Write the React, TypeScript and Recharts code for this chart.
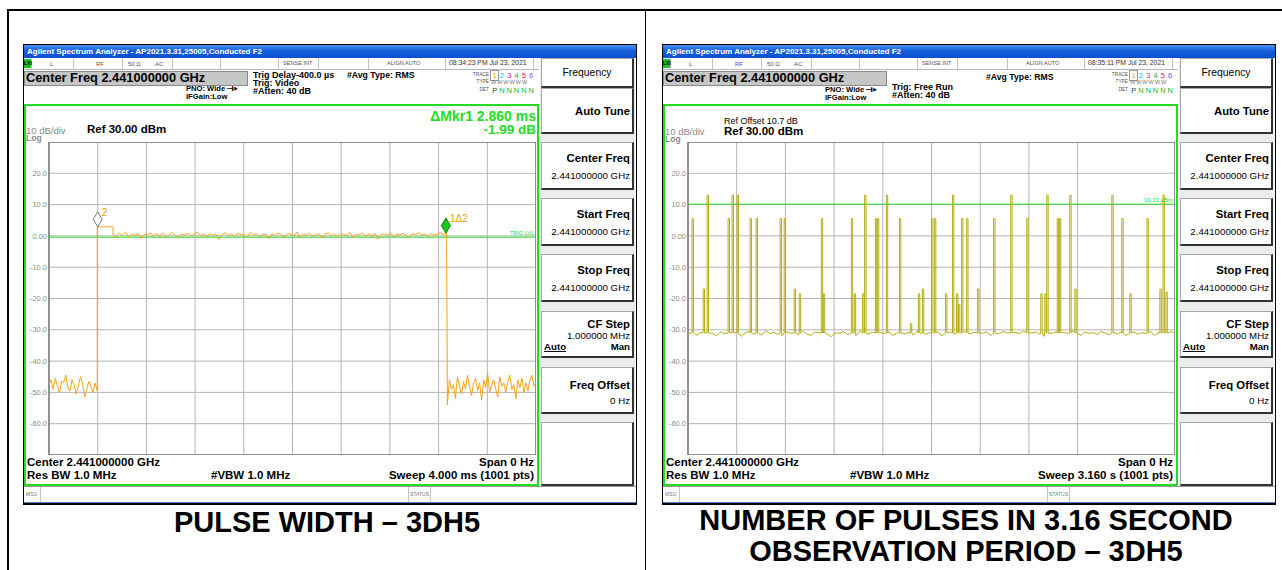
import React from 'react';
import { LineChart, Line, XAxis, YAxis, CartesianGrid, ReferenceLine, ReferenceArea, ReferenceDot } from 'recharts';

// ---------- shared scale ----------
const levelTicks = [-70, -60, -50, -40, -30, -20, -10, 0, 10, 20, 30];

// ---------- left: pulse width, 4 ms zero-span sweep ----------
const leftSweep = 4.0; // ms
const leftTimeTicks = [0, 0.4, 0.8, 1.2, 1.6, 2.0, 2.4, 2.8, 3.2, 3.6, 4.0];
const leftPreNoise = [-47.5, -46, -49, -45.5, -48, -50, -46.5, -47, -44.5, -48.5, -49.5, -46, -47.5, -50.5, -48, -45, -47, -51.5, -49, -46.5, -48, -50, -47, -49.5];
const leftRise = 0.396;
const leftBurstHead = 2.9;
const leftBurstHeadEnd = 0.526;
const leftBurst = [
  0.4, -0.6, 0.9, 0.2, 1.2, -0.3, 0.6, 0.1, 0.8, -0.9, 0.5, 0.3, 1.0, -0.2, 0.7, 0.0, 0.9, -0.5, 0.4, 1.1,
  0.2, -0.8, 0.6, 0.3, 0.9, -0.1, 0.5, 1.3, 0.0, 0.7, -0.4, 0.8, 0.2, 0.6, -1.2, 0.4, 1.0, 0.1, 0.7, -0.3,
  0.9, 0.3, 0.5, -0.6, 1.1, 0.2, 0.8, -0.2, 0.4, 0.6, -0.9, 0.7, 0.1, 1.0, 0.3, -0.4, 0.8, 0.5, 0.0, 1.2,
  -0.5, 0.6, 0.2, 0.9, -0.1, 0.4, 0.7, -0.7, 0.5, 1.0, 0.1, 0.6, -0.3, 0.8, 0.4, 0.2, 1.1, -0.6, 0.5, 0.3,
  0.9, -0.2, 0.6, 0.0, 0.8, -1.0, 0.4, 0.7, 0.2, 1.0, -0.4, 0.5, 0.3, 0.9, 0.1, -0.5, 0.7, 0.4, 1.1, 0.2,
  0.6, -0.2, 0.8, 0.3, 0.5, 1.0, 0.4, 0.9,
];
const leftFall = 3.266;
const leftPostNoise = [
  -54, -46, -49, -47.5, -52, -45, -48, -50.5, -46.5, -49, -44.5, -48, -51, -47, -45.5, -49.5, -47, -52.5, -46, -48.5,
  -44, -50, -47.5, -46, -49, -51.5, -45, -48, -47, -50, -46.5, -44.5, -49, -47.5, -52, -46, -48.5, -45.5, -50, -47,
  -49.5, -46, -44.5, -48, -47,
];
const leftMarkers = [
  { t: 0.4, level: 2.9, label: '2', fill: '#ffffff', stroke: '#777777' },
  { t: 3.26, level: 0.9, label: '1Δ2', fill: '#19c819', stroke: '#0b7d0b' },
];
const trigLevel = -0.4;

// ---------- right: pulses in 3.16 s observation ----------
const rightSweep = 3.16; // s
const rightTimeTicks = [0, 0.316, 0.632, 0.948, 1.264, 1.58, 1.896, 2.212, 2.528, 2.844, 3.16];
const rightNoise = [
  -31.2, -30.6, -31.8, -30.9, -31.5, -30.2, -31.1, -31.9, -30.7, -31.3, -30.4, -31.6, -30.8, -32.1, -31.0, -30.5, -31.4, -30.9, -31.7, -30.3,
  -31.2, -30.8, -31.5, -32.0, -30.6, -31.1, -30.9, -31.6, -30.4, -31.3, -31.8, -30.7, -31.0, -30.5, -31.4, -32.2, -30.9, -31.2, -30.6, -31.5,
  -30.8, -31.9, -30.3, -31.1, -31.4, -30.7, -31.6, -30.9, -31.2, -30.5, -31.8, -31.0, -30.6, -31.3, -30.8, -31.7, -30.4, -31.1, -31.5, -30.9,
  -31.2, -30.6, -32.0, -31.0, -30.7, -31.4, -30.9, -31.6, -30.3, -31.2, -30.8, -31.5, -31.1, -30.6, -31.9, -30.9, -31.3, -30.5, -31.0, -31.7,
  -30.8, -31.2, -30.4, -31.6, -31.0, -30.7, -31.4, -32.1, -30.9, -31.1, -30.6, -31.5, -30.8, -31.3, -30.2, -31.0, -31.8, -30.7, -31.2, -30.9,
  -31.5, -30.5, -31.1, -31.6, -30.8, -31.3, -30.6, -31.9, -31.0, -30.7, -31.4, -30.9, -31.2, -30.5, -31.7, -31.0, -30.8, -31.3, -30.6, -31.1,
];
const pulseTimes = [
  0.026, 0.098, 0.124, 0.260, 0.286, 0.319, 0.403, 0.442, 0.598, 0.624, 0.689, 0.722, 0.865, 0.878, 1.060, 1.079, 1.133,
  1.146, 1.216, 1.229, 1.287, 1.372, 1.443, 1.495, 1.521, 1.580, 1.599, 1.671, 1.716, 1.742, 1.755, 1.775, 1.808, 1.879,
  1.983, 2.094, 2.198, 2.289, 2.315, 2.328, 2.396, 2.410, 2.477, 2.510, 2.750, 2.815, 2.867, 2.978, 3.062, 3.082, 3.101,
];
const pulseLevels = [
  5.5, -17, 13, 5.5, 13, 13, 5.5, 5.5, 5.5, 5.5, -17, -18.5, 5.5, -18.5, 5.5, -18.5, -18.5,
  13, 5.5, 5.5, 13, 5.5, -28, -18.5, -17, 5.5, 5.5, -18.5, 13, -18.5, -22, 5.5, 5.5, -17,
  5.5, 13, 5.5, -18.5, -18.5, 13, 5.5, 5.5, 13, -17, 13, 5.5, -18.5, 5.5, -17, 13, -18,
];
const pulseWidth = 0.009;
const pulseFloor = -31;
const thresholdLevel = 10.13;

// ---------- build series ----------
const spread = (values: number[], t0: number, t1: number) =>
  values.map((v, i) => ({ t: t0 + ((t1 - t0) * i) / (values.length - 1), v }));

const leftData = [
  ...spread(leftPreNoise, 0, leftRise),
  { t: leftRise, v: leftBurstHead },
  { t: leftBurstHeadEnd, v: leftBurstHead },
  ...spread(leftBurst, leftBurstHeadEnd, leftFall),
  ...spread(leftPostNoise, leftFall + 0.006, leftSweep),
];

const rightData = (() => {
  const pts: { t: number; v: number; o: number }[] = [];
  rightNoise.forEach((v, i) => {
    const t = (rightSweep * i) / (rightNoise.length - 1);
    if (!pulseTimes.some((p) => t >= p && t <= p + pulseWidth)) pts.push({ t, v, o: 0 });
  });
  pulseTimes.forEach((p, i) => {
    pts.push(
      { t: p, v: pulseFloor, o: 1 },
      { t: p, v: pulseLevels[i], o: 2 },
      { t: p + pulseWidth, v: pulseLevels[i], o: 3 },
      { t: p + pulseWidth, v: pulseFloor, o: 4 },
    );
  });
  pts.sort((a, b) => a.t - b.t || a.o - b.o);
  return pts;
})();

// ---------- look ----------
const FONT = '"Liberation Sans", Arial, Helvetica, sans-serif';
const SHOT_W = 614;
const SHOT_H = 461;
const GREEN = '#22dd22';

const fmtLevel = (v: number) => (v === 30 || v === -70 ? '' : v === 0 ? '0.00' : v.toFixed(1));

type TxtProps = {
  x?: number;
  re?: number;
  cy: number;
  size: number;
  bold?: boolean;
  color?: string;
  children: React.ReactNode;
};

const Txt = ({ x, re, cy, size, bold, color = '#000', children }: TxtProps) => (
  <div
    style={{
      position: 'absolute',
      left: x,
      right: re !== undefined ? SHOT_W - re : undefined,
      top: cy - size * 0.5,
      fontSize: size,
      lineHeight: `${size}px`,
      fontWeight: bold ? 700 : 400,
      color,
      whiteSpace: 'nowrap',
    }}
  >
    {children}
  </div>
);

const Diamond = (props: any) => {
  const { cx, cy, fill, stroke, label } = props;
  if (cx == null || cy == null) return null;
  return (
    <g>
      <polygon
        points={`${cx},${cy} ${cx + 4.5},${cy - 7.5} ${cx},${cy - 15} ${cx - 4.5},${cy - 7.5}`}
        fill={fill}
        stroke={stroke}
        strokeWidth={1}
      />
      <text x={cx + 4} y={cy - 11} fill="#f0a000" fontSize={10}>
        {label}
      </text>
    </g>
  );
};

const LeftPlot = () => (
  <LineChart width={512} height={313} data={leftData} margin={{ top: 0, right: 0, bottom: 0, left: 0 }}>
    <CartesianGrid stroke="#b4b4b4" strokeWidth={1} />
    <XAxis type="number" dataKey="t" domain={[0, leftSweep]} ticks={leftTimeTicks} hide />
    <YAxis
      type="number"
      domain={[-70, 30]}
      ticks={levelTicks}
      width={25}
      tickSize={0}
      tickMargin={2}
      axisLine={false}
      tickLine={false}
      tick={{ fill: '#8c8c8c', fontSize: 7.5 }}
      tickFormatter={fmtLevel}
    />
    <ReferenceArea x1={0} x2={leftSweep} y1={-70} y2={30} fill="none" stroke="#7a7a7a" strokeWidth={1.5} />
    <ReferenceLine
      y={trigLevel}
      stroke={GREEN}
      strokeWidth={1}
      label={{ value: 'TRIG LVL', position: 'insideBottomRight', offset: 2, fill: GREEN, fontSize: 5.5 }}
    />
    <Line type="linear" dataKey="v" stroke="#f4a412" strokeWidth={1} dot={false} isAnimationActive={false} />
    {leftMarkers.map((m) => (
      <ReferenceDot
        key={m.label}
        x={m.t}
        y={m.level}
        r={0}
        ifOverflow="visible"
        shape={(p: any) => <Diamond {...p} fill={m.fill} stroke={m.stroke} label={m.label} />}
      />
    ))}
  </LineChart>
);

const RightPlot = () => (
  <LineChart width={512} height={313} data={rightData} margin={{ top: 0, right: 0, bottom: 0, left: 0 }}>
    <CartesianGrid stroke="#b4b4b4" strokeWidth={1} />
    <XAxis type="number" dataKey="t" domain={[0, rightSweep]} ticks={rightTimeTicks} hide />
    <YAxis
      type="number"
      domain={[-70, 30]}
      ticks={levelTicks}
      width={25}
      tickSize={0}
      tickMargin={2}
      axisLine={false}
      tickLine={false}
      tick={{ fill: '#8c8c8c', fontSize: 7.5 }}
      tickFormatter={fmtLevel}
    />
    <ReferenceArea x1={0} x2={rightSweep} y1={-70} y2={30} fill="none" stroke="#7a7a7a" strokeWidth={1.5} />
    <ReferenceLine
      y={thresholdLevel}
      stroke={GREEN}
      strokeWidth={1}
      label={{ value: '10.13 dBm', position: 'insideBottomRight', offset: 2, fill: GREEN, fontSize: 6 }}
    />
    <Line type="linear" dataKey="v" stroke="#b5ad14" strokeWidth={1} dot={false} isAnimationActive={false} />
  </LineChart>
);

const Softkey = ({ top, h, children }: { top: number; h: number; children?: React.ReactNode }) => (
  <div
    style={{
      position: 'absolute',
      left: 1,
      top,
      width: 93,
      height: h,
      boxSizing: 'border-box',
      background: '#fff',
      borderTop: '1px solid #a8a8a8',
      borderLeft: '1px solid #a8a8a8',
      borderRight: '2px solid #333',
      borderBottom: '2px solid #333',
    }}
  >
    {children}
  </div>
);

const KeyTxt = ({ cy, size, bold, children, left }: { cy: number; size: number; bold?: boolean; children: React.ReactNode; left?: boolean }) => (
  <div
    style={{
      position: 'absolute',
      left: left ? 2 : undefined,
      right: left ? undefined : 2,
      top: cy - size * 0.5,
      fontSize: size,
      lineHeight: `${size}px`,
      fontWeight: bold ? 700 : 400,
      whiteSpace: 'nowrap',
      textDecoration: left ? 'underline' : undefined,
    }}
  >
    {children}
  </div>
);

const SoftPanel = () => (
  <div style={{ position: 'absolute', left: 517, top: 14, width: 95, height: 428, background: '#ececec' }}>
    <Softkey top={0} h={30}>
      <div style={{ position: 'absolute', left: 0, right: 0, top: 8, textAlign: 'center', fontSize: 10.4 }}>Frequency</div>
    </Softkey>
    <Softkey top={30} h={46}>
      <KeyTxt cy={23} size={11.3} bold>Auto Tune</KeyTxt>
    </Softkey>
    <Softkey top={84} h={48}>
      <KeyTxt cy={16} size={11.3} bold>Center Freq</KeyTxt>
      <KeyTxt cy={33} size={9.7}>2.441000000 GHz</KeyTxt>
    </Softkey>
    <Softkey top={140} h={48}>
      <KeyTxt cy={16} size={11.3} bold>Start Freq</KeyTxt>
      <KeyTxt cy={33} size={9.7}>2.441000000 GHz</KeyTxt>
    </Softkey>
    <Softkey top={196} h={48}>
      <KeyTxt cy={16} size={11.3} bold>Stop Freq</KeyTxt>
      <KeyTxt cy={33} size={9.7}>2.441000000 GHz</KeyTxt>
    </Softkey>
    <Softkey top={253} h={47}>
      <KeyTxt cy={13} size={11.3} bold>CF Step</KeyTxt>
      <KeyTxt cy={24} size={9.7}>1.000000 MHz</KeyTxt>
      <KeyTxt cy={35} size={9.7} bold left>Auto</KeyTxt>
      <KeyTxt cy={35} size={9.7} bold>Man</KeyTxt>
    </Softkey>
    <Softkey top={309} h={47}>
      <KeyTxt cy={18} size={11.3} bold>Freq Offset</KeyTxt>
      <KeyTxt cy={33} size={9.7}>0 Hz</KeyTxt>
    </Softkey>
    <Softkey top={364} h={64} />
  </div>
);

const statusSeps = [8, 50, 99, 149, 197, 255, 295, 345, 422, 510];
const traceColors = ['#f0a000', '#10b4e6', '#e020e0', '#20b020', '#e02020', '#7a4cff'];

type ShotProps = {
  left: number;
  time: string;
  trig: { text: string; cy: number }[];
  avgCy: number;
  pnoCy: number;
  trace1: string;
  sweep: string;
  plotText: React.ReactNode;
  plot: React.ReactNode;
};

const Shot = ({ left, time, trig, avgCy, pnoCy, trace1, sweep, plotText, plot }: ShotProps) => (
  <div style={{ position: 'absolute', left, top: 44, width: SHOT_W, height: SHOT_H, background: '#000' }}>
    {/* title bar */}
    <div
      style={{
        position: 'absolute',
        left: 1,
        top: 1,
        width: SHOT_W - 2,
        height: 13,
        background: 'linear-gradient(#4a90f2, #1660dc 45%, #0b4fcf)',
        color: '#fff',
        fontSize: 8,
        fontWeight: 700,
        lineHeight: '13px',
        paddingLeft: 3,
        boxSizing: 'border-box',
        whiteSpace: 'nowrap',
      }}
    >
      Agilent Spectrum Analyzer - AP2021.3.31,25005,Conducted F2
    </div>
    {/* white body */}
    <div style={{ position: 'absolute', left: 1, top: 14, width: SHOT_W - 2, height: 445, background: '#fff' }} />
    {/* status row */}
    <div style={{ position: 'absolute', left: 1, top: 25, width: 515, height: 1, background: '#b8b8b8' }} />
    {statusSeps.map((x) => (
      <div key={x} style={{ position: 'absolute', left: x, top: 14, width: 1, height: 11, background: '#c4c4c4' }} />
    ))}
    <div style={{ position: 'absolute', left: 1, top: 15, width: 7, height: 9, background: '#1ec21e', fontSize: 5, fontWeight: 700, lineHeight: '9px', textAlign: 'center' }}>LXI</div>
    <Txt x={27} cy={19.5} size={6} color="#555">L</Txt>
    <Txt x={73} cy={19.5} size={6} color="#555">RF</Txt>
    <Txt x={105} cy={19.5} size={6} color="#555">50 Ω</Txt>
    <Txt x={132} cy={19.5} size={6} color="#555">AC</Txt>
    <Txt x={260} cy={19.5} size={5.6} color="#555">SENSE:INT</Txt>
    <Txt x={364} cy={19.5} size={5.6} color="#555">ALIGN AUTO</Txt>
    <Txt x={426} cy={19.5} size={6.8} color="#333">{time}</Txt>
    {/* settings */}
    <div
      style={{
        position: 'absolute',
        left: 1,
        top: 27,
        width: 224,
        height: 15,
        boxSizing: 'border-box',
        background: '#c6c6c6',
        border: '1px solid #8a8a8a',
      }}
    />
    <Txt x={3} cy={34.5} size={12.8} bold>Center Freq 2.441000000 GHz</Txt>
    <Txt x={163} cy={pnoCy} size={7.6} bold>PNO: Wide ⟞▸</Txt>
    <Txt x={163} cy={pnoCy + 8} size={7.6} bold>IFGain:Low</Txt>
    {trig.map((l) => (
      <Txt key={l.text} x={230} cy={l.cy} size={9} bold>{l.text}</Txt>
    ))}
    <Txt x={324} cy={avgCy} size={8.7} bold>#Avg Type: RMS</Txt>
    <Txt re={466} cy={31} size={4.8} color="#555">TRACE</Txt>
    <Txt re={466} cy={38.5} size={4.8} color="#555">TYPE</Txt>
    <Txt re={466} cy={46} size={4.8} color="#555">DET</Txt>
    <div style={{ position: 'absolute', left: 468, top: 26.5, fontSize: 7.5, lineHeight: '9px', whiteSpace: 'nowrap' }}>
      {traceColors.map((c, i) => (
        <span
          key={i}
          style={{
            color: i === 0 ? trace1 : c,
            display: 'inline-block',
            width: 7.3,
            textAlign: 'center',
            outline: i === 0 ? '1px solid #999' : undefined,
          }}
        >
          {i + 1}
        </span>
      ))}
    </div>
    <div style={{ position: 'absolute', left: 468, top: 35, fontSize: 5.6, lineHeight: '7px', color: '#777', letterSpacing: 0.9, whiteSpace: 'nowrap' }}>
      WWWWWW
    </div>
    <div style={{ position: 'absolute', left: 468, top: 41.5, fontSize: 7.5, lineHeight: '9px', whiteSpace: 'nowrap' }}>
      {['P', 'N', 'N', 'N', 'N', 'N'].map((c, i) => (
        <span key={i} style={{ color: i === 0 ? '#444' : '#20b020', display: 'inline-block', width: 7.3, textAlign: 'center' }}>
          {c}
        </span>
      ))}
    </div>
    {/* measurement frame */}
    <div
      style={{
        position: 'absolute',
        left: 1,
        top: 60,
        width: 515,
        height: 382,
        boxSizing: 'border-box',
        border: `2px solid ${GREEN}`,
      }}
    />
    {plotText}
    <div style={{ position: 'absolute', left: 1, top: 98 }}>{plot}</div>
    <Txt x={4} cy={419} size={11.5} bold>Center 2.441000000 GHz</Txt>
    <Txt re={511} cy={419} size={11.5} bold>Span 0 Hz</Txt>
    <Txt x={4} cy={432} size={11.5} bold>Res BW 1.0 MHz</Txt>
    <Txt x={188} cy={432} size={11.5} bold>#VBW 1.0 MHz</Txt>
    <Txt re={511} cy={432} size={11.5} bold>{sweep}</Txt>
    <SoftPanel />
    {/* message bar */}
    <div style={{ position: 'absolute', left: 1, top: 442, width: SHOT_W - 2, height: 1, background: '#9a9a9a' }} />
    <div style={{ position: 'absolute', left: 17, top: 443, width: 1, height: 15, background: '#c4c4c4' }} />
    <div style={{ position: 'absolute', left: 385, top: 443, width: 1, height: 15, background: '#c4c4c4' }} />
    <div style={{ position: 'absolute', left: 407, top: 443, width: 1, height: 15, background: '#c4c4c4' }} />
    <Txt x={3} cy={450} size={5} color="#777">MSG</Txt>
    <Txt x={387} cy={450} size={5} color="#777">STATUS</Txt>
    <div style={{ position: 'absolute', left: 1, top: 458, width: SHOT_W - 2, height: 1, background: '#4a7fd8' }} />
  </div>
);

const leftPlotText = (
  <>
    <Txt x={3} cy={86.5} size={9.5} color="#8a8a8a">10 dB/div</Txt>
    <Txt x={3} cy={94.5} size={8.5} bold color="#8a8a8a">Log</Txt>
    <Txt x={64} cy={86} size={11.5} bold>Ref 30.00 dBm</Txt>
    <Txt re={513} cy={72} size={14} bold color={GREEN}>ΔMkr1 2.860 ms</Txt>
    <Txt re={513} cy={85.5} size={13.5} bold color={GREEN}>-1.99 dB</Txt>
  </>
);

const rightPlotText = (
  <>
    <Txt x={62} cy={77} size={9}>Ref Offset 10.7 dB</Txt>
    <Txt x={62} cy={88} size={11.5} bold>Ref 30.00 dBm</Txt>
    <Txt x={3} cy={87.5} size={9.5} color="#8a8a8a">10 dB/div</Txt>
    <Txt x={3} cy={95.5} size={8.5} bold color="#8a8a8a">Log</Txt>
  </>
);

const captionStyle: React.CSSProperties = {
  position: 'absolute',
  fontSize: 29,
  lineHeight: '31px',
  fontWeight: 700,
  textAlign: 'center',
  whiteSpace: 'nowrap',
  color: '#000',
};

export default function App() {
  return (
    <div style={{ position: 'absolute', left: 0, top: 0, width: 1282, height: 570, overflow: 'hidden', background: '#fff', fontFamily: FONT }}>
      {/* report table borders */}
      <div style={{ position: 'absolute', left: 7, top: 9, width: 1300, height: 600, borderTop: '2px solid #000', borderLeft: '2px solid #000' }} />
      <div style={{ position: 'absolute', left: 645, top: 10, width: 1, height: 560, background: '#000' }} />

      <Shot
        left={23}
        time="08:34:23 PM Jul 23, 2021"
        trig={[
          { text: 'Trig Delay-400.0 µs', cy: 31 },
          { text: 'Trig: Video', cy: 39 },
          { text: '#Atten: 40 dB', cy: 47 },
        ]}
        avgCy={31}
        pnoCy={45}
        trace1="#f0a000"
        sweep="Sweep  4.000 ms (1001 pts)"
        plotText={leftPlotText}
        plot={<LeftPlot />}
      />
      <Shot
        left={662}
        time="08:35:11 PM Jul 23, 2021"
        trig={[
          { text: 'Trig: Free Run', cy: 43 },
          { text: '#Atten: 40 dB', cy: 51 },
        ]}
        avgCy={33}
        pnoCy={46}
        trace1="#c8b800"
        sweep="Sweep  3.160 s (1001 pts)"
        plotText={rightPlotText}
        plot={<RightPlot />}
      />

      <div style={{ ...captionStyle, left: 127, width: 400, top: 507 }}>PULSE WIDTH – 3DH5</div>
      <div style={{ ...captionStyle, left: 666, width: 600, top: 505 }}>
        NUMBER OF PULSES IN 3.16 SECOND
        <br />
        OBSERVATION PERIOD – 3DH5
      </div>
    </div>
  );
}
